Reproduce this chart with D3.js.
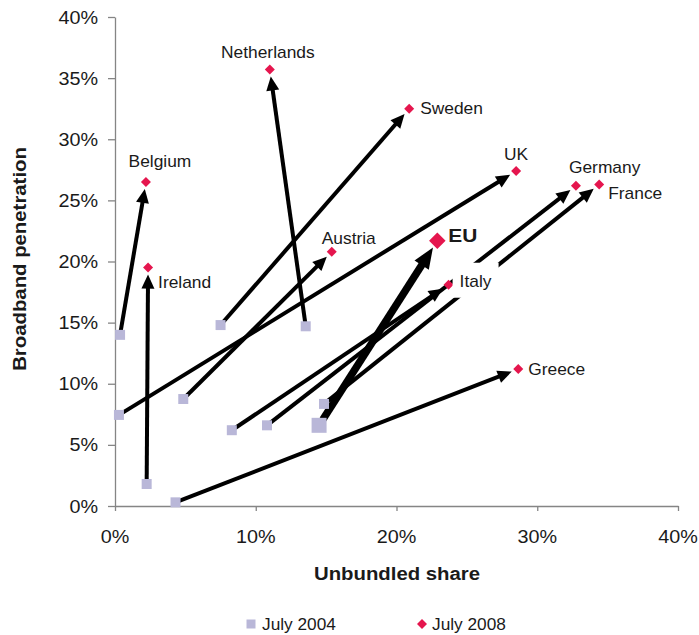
<!DOCTYPE html>
<html>
<head>
<meta charset="utf-8">
<script src="https://cdn.jsdelivr.net/npm/d3@7"></script>
<style>
  body { margin: 0; background: #fff; }
  svg { display: block; }
  text { font-family: "Liberation Sans", Arial, sans-serif; fill: #1a1a1a; }
</style>
</head>
<body>
<svg id="chart" width="699" height="635"></svg>
<script>
// values in percent
var countries = ["Belgium", "Ireland", "Netherlands", "Sweden", "Austria", "UK", "Italy", "Germany", "France", "EU", "Greece"];
var share2004 = [0.36, 2.25, 13.55, 7.5, 4.85, 0.28, 8.3, 10.8, 14.85, 14.5, 4.3];
var pen2004 = [14.0, 1.8, 14.7, 14.8, 8.75, 7.45, 6.2, 6.6, 8.35, 6.6, 0.3];
var share2008 = [2.2, 2.35, 11.0, 20.9, 15.4, 28.5, 23.7, 32.75, 34.4, 22.9, 28.65];
var pen2008 = [26.5, 19.5, 35.7, 32.5, 20.8, 27.4, 18.1, 26.2, 26.3, 21.7, 11.2];

var xTicks = [0, 10, 20, 30, 40];
var yTicks = [0, 5, 10, 15, 20, 25, 30, 35, 40];
var seriesNames = ["July 2004", "July 2008"];

var squareColor = "#b9b7d8",
	diamondColor = "#e5164e";

// where each name sits next to its 2008 point
var labelPos = {
	Belgium: { dx: 14, dy: -15, anchor: "middle" },
	Ireland: { dx: 10, dy: 20, anchor: "start" },
	Netherlands: { dx: -2, dy: -12, anchor: "middle" },
	Sweden: { dx: 11, dy: 5, anchor: "start" },
	Austria: { dx: 17, dy: -8, anchor: "middle" },
	UK: { dx: 0, dy: -11, anchor: "middle" },
	Italy: { dx: 11, dy: 2, anchor: "start", box: true },
	Germany: { dx: -7, dy: -13, anchor: "start" },
	France: { dx: 9, dy: 15, anchor: "start" },
	EU: { dx: 11, dy: 1, anchor: "start", bold: true, size: 19 },
	Greece: { dx: 10, dy: 6, anchor: "start" }
};

var svg = d3.select("#chart");

var x = d3.scaleLinear().domain([0, 40]).range([115, 678]);
var y = d3.scaleLinear().domain([0, 40]).range([506, 17]);

function addText(parent, px, py, str, size, opts) {
	opts = opts || {};
	var g = parent.append("g")
		.attr("transform", "translate(" + px + "," + py + ")" + (opts.rotate ? " rotate(-90)" : ""));
	g.append("text")
		.attr("transform", "scale(1.1,1)")
		.attr("text-anchor", opts.anchor || "start")
		.style("font-size", size + "px")
		.style("font-weight", opts.bold ? "bold" : "normal")
		.text(str);
	return g;
}

// axes
var axisColor = "#858585";
svg.append("g")
	.attr("transform", "translate(" + x(0) + ",0)")
	.call(d3.axisLeft(y).tickValues(yTicks).tickSize(7).tickSizeOuter(0).tickFormat(""));
svg.append("g")
	.attr("transform", "translate(0," + y(0) + ")")
	.call(d3.axisBottom(x).tickValues(xTicks).tickSize(5).tickSizeOuter(0).tickFormat(""));
svg.selectAll(".domain, .tick line").attr("stroke", axisColor).attr("stroke-width", 1.3);

yTicks.forEach(function(t) {
	addText(svg, 98, y(t) + 6.5, t + "%", 18, { anchor: "end" });
});
xTicks.forEach(function(t) {
	addText(svg, x(t), 543, t + "%", 18, { anchor: "middle" });
});

addText(svg, 397, 580, "Unbundled share", 18.5, { anchor: "middle", bold: true });
addText(svg, 25.5, 259, "Broadband penetration", 18.5, { anchor: "middle", bold: true, rotate: true });

// arrows
var arrowLayer = svg.append("g");

function drawArrow(x0, y0, x1, y1, o) {
	var dx = x1 - x0,
		dy = y1 - y0;
	var len = Math.sqrt(dx * dx + dy * dy);
	var ux = dx / len,
		uy = dy / len;
	var sx = x0 + ux * o.startGap,
		sy = y0 + uy * o.startGap;
	var tx = x1 - ux * o.endGap,
		ty = y1 - uy * o.endGap;
	var bx = tx - ux * o.headLen,
		by = ty - uy * o.headLen;
	var px = -uy * o.headW / 2,
		py = ux * o.headW / 2;

	arrowLayer.append("line")
		.attr("x1", sx).attr("y1", sy)
		.attr("x2", bx + ux * 2).attr("y2", by + uy * 2)
		.attr("stroke", "#000")
		.attr("stroke-width", o.width);
	arrowLayer.append("path")
		.attr("d", "M" + tx + "," + ty + "L" + (bx + px) + "," + (by + py) + "L" + (bx - px) + "," + (by - py) + "Z")
		.attr("fill", "#000");
}

countries.forEach(function(c, i) {
	var isEU = c === "EU";
	drawArrow(x(share2004[i]), y(pen2004[i]), x(share2008[i]), y(pen2008[i]), isEU ?
		{ startGap: 7, endGap: 8, headLen: 21, headW: 17, width: 7.5 } :
		{ startGap: 4, endGap: 7, headLen: 14, headW: 13, width: 4 });
});

// markers
var square = d3.symbol().type(d3.symbolSquare);

svg.append("g").selectAll("path")
	.data(countries)
	.enter().append("path")
	.attr("transform", function(c, i) {
		return "translate(" + x(share2004[i]) + "," + y(pen2004[i]) + ")";
	})
	.attr("d", function(c) { return square.size(c === "EU" ? 225 : 100)(); })
	.attr("fill", squareColor);

svg.append("g").selectAll("path")
	.data(countries)
	.enter().append("path")
	.attr("transform", function(c, i) {
		return "translate(" + x(share2008[i]) + "," + y(pen2008[i]) + ") rotate(45)";
	})
	.attr("d", function(c) { return square.size(c === "EU" ? 136 : 50)(); })
	.attr("fill", diamondColor);

// country names
countries.forEach(function(c, i) {
	var p = labelPos[c];
	var lx = x(share2008[i]) + p.dx,
		ly = y(pen2008[i]) + p.dy;
	if (p.box) {
		svg.append("rect")
			.attr("x", lx - 7).attr("y", ly - 24)
			.attr("width", 46).attr("height", 35)
			.attr("fill", "#fff");
	}
	addText(svg, lx, ly, c, p.size || 15.8, { anchor: p.anchor, bold: p.bold });
});

// legend
var legend = svg.append("g");
legend.append("path")
	.attr("transform", "translate(251,624)")
	.attr("d", square.size(81)())
	.attr("fill", squareColor);
addText(legend, 262, 630, seriesNames[0], 15.7);
legend.append("path")
	.attr("transform", "translate(422,624) rotate(45)")
	.attr("d", square.size(50)())
	.attr("fill", diamondColor);
addText(legend, 432, 630, seriesNames[1], 15.7);
</script>
</body>
</html>
